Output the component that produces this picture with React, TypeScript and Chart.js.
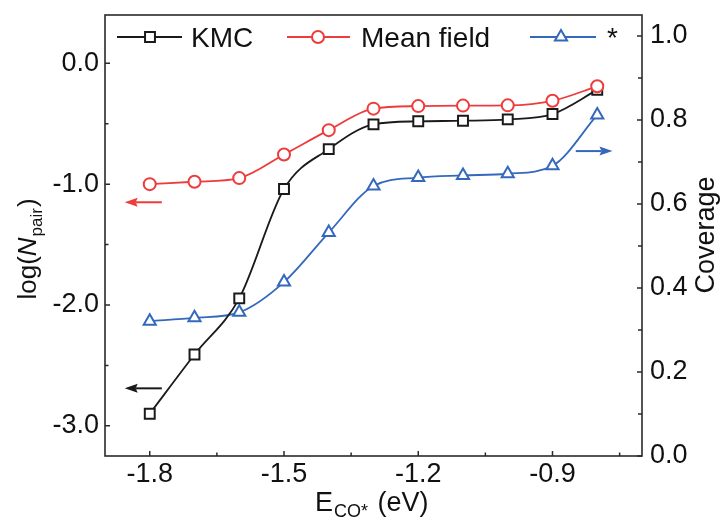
import React, { useEffect, useRef } from 'react';
import { Chart, registerables } from 'chart.js';

Chart.register(...registerables);

// ---------- data ----------
const energies = [-1.8, -1.7, -1.6, -1.5, -1.4, -1.3, -1.2, -1.1, -1.0, -0.9, -0.8];
const kmcLogNpair = [-2.9, -2.41, -1.945, -1.04, -0.71, -0.505, -0.48, -0.475, -0.464, -0.42, -0.22];
const meanFieldLogNpair = [-1.0, -0.98, -0.95, -0.755, -0.553, -0.375, -0.354, -0.35, -0.348, -0.31, -0.19];
const coverage = [0.321, 0.329, 0.342, 0.414, 0.532, 0.643, 0.663, 0.668, 0.672, 0.691, 0.812];

const seriesLabels = ['KMC', 'Mean field', '*'];

const xTicks = [-1.8, -1.5, -1.2, -0.9];
const xMinorTicks = [-1.65, -1.35, -1.05, -0.75];
const leftTicks = [-3, -2, -1, 0];
const leftMinorTicks = [-2.5, -1.5, -0.5];
const rightTicks = [0, 0.2, 0.4, 0.6, 0.8, 1.0];
const rightMinorTicks = [0.1, 0.3, 0.5, 0.7, 0.9];

// ---------- style ----------
const FONT = '"Liberation Sans", Arial, Helvetica, sans-serif';
const BLACK = '#1a1a1a';
const RED = '#ee3b3b';
const BLUE = '#3468bd';
const AXIS = '#2a2a2a';

function drawMarker(ctx: CanvasRenderingContext2D, style: string, x: number, y: number, r: number, color: string) {
  ctx.save();
  ctx.strokeStyle = color;
  ctx.lineWidth = 2;
  ctx.fillStyle = '#ffffff';
  ctx.beginPath();
  if (style === 'rect') {
    const s = r * Math.SQRT1_2;
    ctx.rect(x - s, y - s, 2 * s, 2 * s);
  } else if (style === 'circle') {
    ctx.arc(x, y, r, 0, Math.PI * 2);
  } else {
    for (let i = 0; i < 3; i++) {
      const a = (i * 2 * Math.PI) / 3;
      const px = x + Math.sin(a) * r;
      const py = y - Math.cos(a) * r;
      if (i === 0) ctx.moveTo(px, py);
      else ctx.lineTo(px, py);
    }
    ctx.closePath();
  }
  ctx.fill();
  ctx.stroke();
  ctx.restore();
}

function drawArrow(ctx: CanvasRenderingContext2D, x1: number, x2: number, y: number, dir: number, color: string) {
  ctx.save();
  ctx.strokeStyle = color;
  ctx.fillStyle = color;
  ctx.lineWidth = 2;
  const tip = dir < 0 ? x1 : x2;
  const tail = dir < 0 ? x2 : x1;
  const headLen = 11;
  const base = tip - dir * headLen;
  ctx.beginPath();
  ctx.moveTo(tail, y);
  ctx.lineTo(base, y);
  ctx.stroke();
  ctx.beginPath();
  ctx.moveTo(tip, y);
  ctx.lineTo(base - dir * 2, y - 4.5);
  ctx.lineTo(base, y);
  ctx.lineTo(base - dir * 2, y + 4.5);
  ctx.closePath();
  ctx.fill();
  ctx.restore();
}

const decorPlugin = {
  id: 'decor',
  afterDraw(chart: any) {
    const ctx: CanvasRenderingContext2D = chart.ctx;
    const { left, right, top, bottom } = chart.chartArea;
    const xs = chart.scales.x;
    const yl = chart.scales.yLeft;
    const yr = chart.scales.yRight;

    ctx.save();
    ctx.strokeStyle = AXIS;
    ctx.lineWidth = 1.6;
    ctx.strokeRect(left, top, right - left, bottom - top);

    ctx.lineWidth = 1.5;
    ctx.beginPath();
    leftTicks.forEach((v) => { const y = yl.getPixelForValue(v); ctx.moveTo(left, y); ctx.lineTo(left + 5, y); });
    leftMinorTicks.forEach((v) => { const y = yl.getPixelForValue(v); ctx.moveTo(left, y); ctx.lineTo(left + 3.5, y); });
    rightTicks.forEach((v) => { const y = yr.getPixelForValue(v); ctx.moveTo(right, y); ctx.lineTo(right - 5, y); });
    rightMinorTicks.forEach((v) => { const y = yr.getPixelForValue(v); ctx.moveTo(right, y); ctx.lineTo(right - 4, y); });
    xTicks.forEach((v) => { const x = xs.getPixelForValue(v); ctx.moveTo(x, bottom); ctx.lineTo(x, bottom - 5); });
    xMinorTicks.forEach((v) => { const x = xs.getPixelForValue(v); ctx.moveTo(x, bottom); ctx.lineTo(x, bottom - 3.5); });
    ctx.stroke();
    ctx.restore();

    drawArrow(ctx, xs.getPixelForValue(-1.856), xs.getPixelForValue(-1.773), yl.getPixelForValue(-1.15), -1, RED);
    drawArrow(ctx, xs.getPixelForValue(-1.856), xs.getPixelForValue(-1.773), yl.getPixelForValue(-2.69), -1, BLACK);
    drawArrow(ctx, xs.getPixelForValue(-0.848), xs.getPixelForValue(-0.766), yr.getPixelForValue(0.726), 1, BLUE);

    const items = [
      { label: seriesLabels[0], color: BLACK, style: 'rect', r: 7, l0: 117, l1: 182, m: 150, t: 191 },
      { label: seriesLabels[1], color: RED, style: 'circle', r: 6, l0: 287, l1: 350, m: 318, t: 361 },
      { label: seriesLabels[2], color: BLUE, style: 'triangle', r: 7, l0: 530, l1: 596, m: 561, t: 607 },
    ];
    const ly = 37;
    items.forEach((it) => {
      ctx.save();
      ctx.strokeStyle = it.color;
      ctx.lineWidth = 1.8;
      ctx.beginPath();
      ctx.moveTo(it.l0, ly);
      ctx.lineTo(it.l1, ly);
      ctx.stroke();
      ctx.restore();
      drawMarker(ctx, it.style, it.m, ly, it.r, it.color);
      ctx.save();
      ctx.fillStyle = '#111';
      ctx.font = `28px ${FONT}`;
      ctx.textBaseline = 'alphabetic';
      ctx.textAlign = 'left';
      ctx.fillText(it.label, it.t, 47);
      ctx.restore();
    });

    ctx.save();
    ctx.fillStyle = '#111';
    ctx.textBaseline = 'alphabetic';
    ctx.textAlign = 'left';
    const mainF = `27px ${FONT}`;
    const subF = `18px ${FONT}`;
    let x0 = 315;
    const by = 511;
    ctx.font = mainF; ctx.fillText('E', x0, by); x0 += ctx.measureText('E').width + 1;
    ctx.font = subF; ctx.fillText('CO*', x0, by + 6); x0 += ctx.measureText('CO*').width + 2;
    ctx.font = mainF; ctx.fillText(' (eV)', x0, by);

    ctx.save();
    ctx.translate(36, 250);
    ctx.rotate(-Math.PI / 2);
    const lMain = `26px ${FONT}`;
    const lSub = `17px ${FONT}`;
    const itF = `italic 26px ${FONT}`;
    ctx.font = lMain;
    const wLog = ctx.measureText('log(').width;
    const wClose = ctx.measureText(')').width;
    ctx.font = itF;
    const wN = ctx.measureText('N').width;
    ctx.font = lSub;
    const wPair = ctx.measureText('pair').width;
    let tx = -(wLog + wN + wPair + wClose) / 2;
    ctx.font = lMain; ctx.fillText('log(', tx, 0); tx += wLog;
    ctx.font = itF; ctx.fillText('N', tx, 0); tx += wN + 1;
    ctx.font = lSub; ctx.fillText('pair', tx, 6); tx += wPair + 1;
    ctx.font = lMain; ctx.fillText(')', tx, 0);
    ctx.restore();

    ctx.save();
    ctx.translate(714, 235);
    ctx.rotate(-Math.PI / 2);
    ctx.font = `27px ${FONT}`;
    ctx.textAlign = 'center';
    ctx.fillText('Coverage', 0, 0);
    ctx.restore();
    ctx.restore();
  },
};

const noPad = (s: any) => {
  s.paddingTop = 0;
  s.paddingBottom = 0;
  s.paddingLeft = 0;
  s.paddingRight = 0;
};

export default function App() {
  const canvasRef = useRef<HTMLCanvasElement | null>(null);

  useEffect(() => {
    if (!canvasRef.current) return;
    const pts = (ys: number[]) => energies.map((x, i) => ({ x, y: ys[i] }));
    const tickFont = { family: FONT, size: 27 };

    const chart = new Chart(canvasRef.current, {
      type: 'line',
      data: {
        datasets: [
          {
            label: seriesLabels[0],
            data: pts(kmcLogNpair),
            yAxisID: 'yLeft',
            borderColor: BLACK,
            borderWidth: 1.8,
            pointStyle: 'rect',
            pointRadius: 7,
            pointBorderWidth: 2,
            pointBackgroundColor: '#ffffff',
            pointBorderColor: BLACK,
            cubicInterpolationMode: 'monotone',
            order: 1,
          },
          {
            label: seriesLabels[1],
            data: pts(meanFieldLogNpair),
            yAxisID: 'yLeft',
            borderColor: RED,
            borderWidth: 1.8,
            pointStyle: 'circle',
            pointRadius: 6,
            pointBorderWidth: 2,
            pointBackgroundColor: '#ffffff',
            pointBorderColor: RED,
            cubicInterpolationMode: 'monotone',
            order: 0,
          },
          {
            label: seriesLabels[2],
            data: pts(coverage),
            yAxisID: 'yRight',
            borderColor: BLUE,
            borderWidth: 1.8,
            pointStyle: 'triangle',
            pointRadius: 7,
            pointBorderWidth: 2,
            pointBackgroundColor: '#ffffff',
            pointBorderColor: BLUE,
            cubicInterpolationMode: 'monotone',
            order: 2,
          },
        ],
      },
      options: {
        responsive: false,
        animation: false,
        layout: { padding: { top: 15, left: 0, right: 0, bottom: 0 } },
        plugins: { legend: { display: false }, tooltip: { enabled: false } },
        scales: {
          x: {
            type: 'linear',
            min: -1.9,
            max: -0.7,
            grid: { display: false, drawTicks: false },
            border: { display: false },
            afterBuildTicks: (s: any) => { s.ticks = xTicks.map((v) => ({ value: v })); },
            afterFit: (s: any) => { s.height = 63; noPad(s); },
            ticks: {
              font: tickFont,
              color: '#111',
              padding: 2,
              maxRotation: 0,
              autoSkip: false,
              callback: (v: any) => Number(v).toFixed(1),
            },
          },
          yLeft: {
            type: 'linear',
            position: 'left',
            min: -3.25,
            max: 0.4,
            grid: { display: false, drawTicks: false },
            border: { display: false },
            afterBuildTicks: (s: any) => { s.ticks = leftTicks.map((v) => ({ value: v })); },
            afterFit: (s: any) => { s.width = 105; noPad(s); },
            ticks: {
              font: tickFont,
              color: '#111',
              padding: 6,
              autoSkip: false,
              callback: (v: any) => Number(v).toFixed(1),
            },
          },
          yRight: {
            type: 'linear',
            position: 'right',
            min: 0,
            max: 1.05,
            grid: { display: false, drawTicks: false },
            border: { display: false },
            afterBuildTicks: (s: any) => { s.ticks = rightTicks.map((v) => ({ value: v })); },
            afterFit: (s: any) => { s.width = 83; noPad(s); },
            ticks: {
              font: tickFont,
              color: '#111',
              padding: 8,
              autoSkip: false,
              callback: (v: any) => Number(v).toFixed(1),
            },
          },
        },
      },
      plugins: [decorPlugin],
    } as any);

    return () => chart.destroy();
  }, []);

  return (
    <div style={{ position: 'absolute', left: 0, top: 0, width: 725, height: 519, background: '#fff' }}>
      <canvas ref={canvasRef} width={725} height={519} style={{ display: 'block' }} />
    </div>
  );
}
